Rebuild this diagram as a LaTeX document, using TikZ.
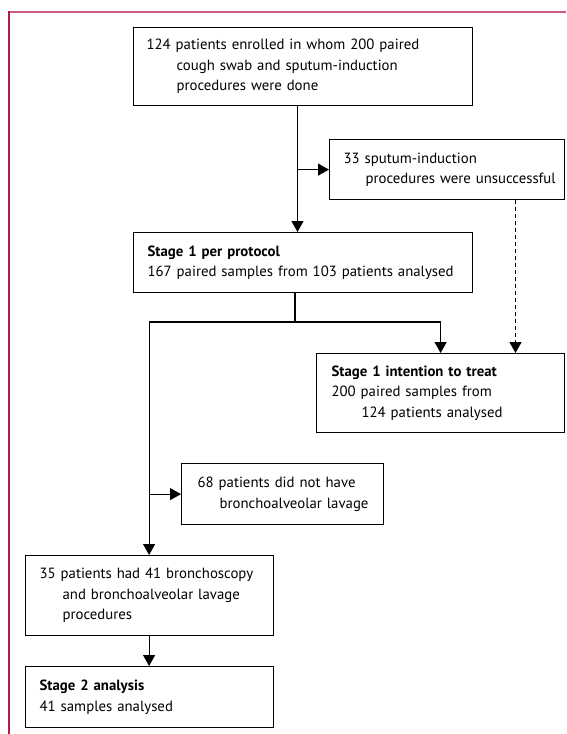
\documentclass[tikz,border=0pt]{standalone}
\usepackage{fontspec}
\setmainfont{PT Sans}
\usetikzlibrary{arrows.meta}
\definecolor{topred}{RGB}{206,92,122}
\definecolor{leftred}{RGB}{178,28,74}
\newcommand{\boxline}[1]{\mbox{#1}}
\newcommand{\hangline}[2]{\mbox{\hspace*{#1}#2}}
\tikzset{
  box/.style={draw, line width=1.2pt, anchor=north west, align=left,
    font=\fontsize{14.8}{20.5}\selectfont, inner ysep=0pt},
  arr/.style={line width=1.2pt, -{Triangle[length=11pt,width=12pt]}},
  plain/.style={line width=1.2pt}
}
\begin{document}
\begin{tikzpicture}[x=1pt,y=-1pt]
\useasboundingbox (0,0) rectangle (566,734);
\draw[topred, line width=1.8pt] (9,11.7) -- (566,11.7);
\draw[leftred, line width=1.4pt] (9,11) -- (9,734);

\node[box, inner xsep=13pt, text width=312.5pt, minimum height=78pt] (start) at (133,27)
  {\boxline{124 patients enrolled in whom 200 paired}\\\hangline{30pt}{cough swab and sputum-induction}\\\hangline{30pt}{procedures were done}};
\node[box, inner xsep=14pt, text width=207pt, minimum height=60pt] (unsucc) at (329,139)
  {\boxline{33 sputum-induction}\\\hangline{22pt}{procedures were unsuccessful}};
\node[box, inner xsep=14pt, text width=310.5pt, minimum height=60pt] (pp) at (133,232)
  {\boxline{\textbf{Stage 1 per protocol}}\\\boxline{167 paired samples from 103 patients analysed}};
\node[box, inner xsep=15pt, text width=218pt, minimum height=79pt] (itt) at (316,353)
  {\boxline{\textbf{Stage 1 intention to treat}}\\\boxline{200 paired samples from}\\\hangline{30pt}{124 patients analysed}};
\node[box, inner xsep=16pt, text width=170pt, minimum height=61pt] (nobal) at (181,463)
  {\boxline{68 patients did not have}\\\hangline{22pt}{bronchoalveolar lavage}};
\node[box, inner xsep=14.5pt, text width=219pt, minimum height=80pt] (bal) at (24.5,555)
  {\boxline{35 patients had 41 bronchoscopy}\\\hangline{23pt}{and bronchoalveolar lavage}\\\hangline{23pt}{procedures}};
\node[box, inner xsep=14.5pt, text width=219pt, minimum height=61pt] (s2) at (24.5,666)
  {\boxline{\textbf{Stage 2 analysis}}\\\boxline{41 samples analysed}};

\coordinate (trunk) at (297.5,0);
\coordinate (dash) at (515.5,0);
\coordinate (ppout) at (295,0);
\coordinate (split) at (0,322);

\draw[arr] (start.south -| trunk) -- (pp.north -| trunk);
\draw[arr] (unsucc.west -| trunk) -- (unsucc.west);
\draw[arr, dash pattern=on 4pt off 3pt] (unsucc.south -| dash) -- (itt.north -| dash);
\draw[plain] (pp.south -| ppout) -- (split -| ppout);
\draw[arr] (split -| bal.north) -| (itt.north);
\draw[arr] (split -| bal.north) -- (bal.north);
\draw[arr] (nobal.west -| bal.north) -- (nobal.west);
\draw[arr] (bal.south) -- (s2.north);
\end{tikzpicture}
\end{document}
